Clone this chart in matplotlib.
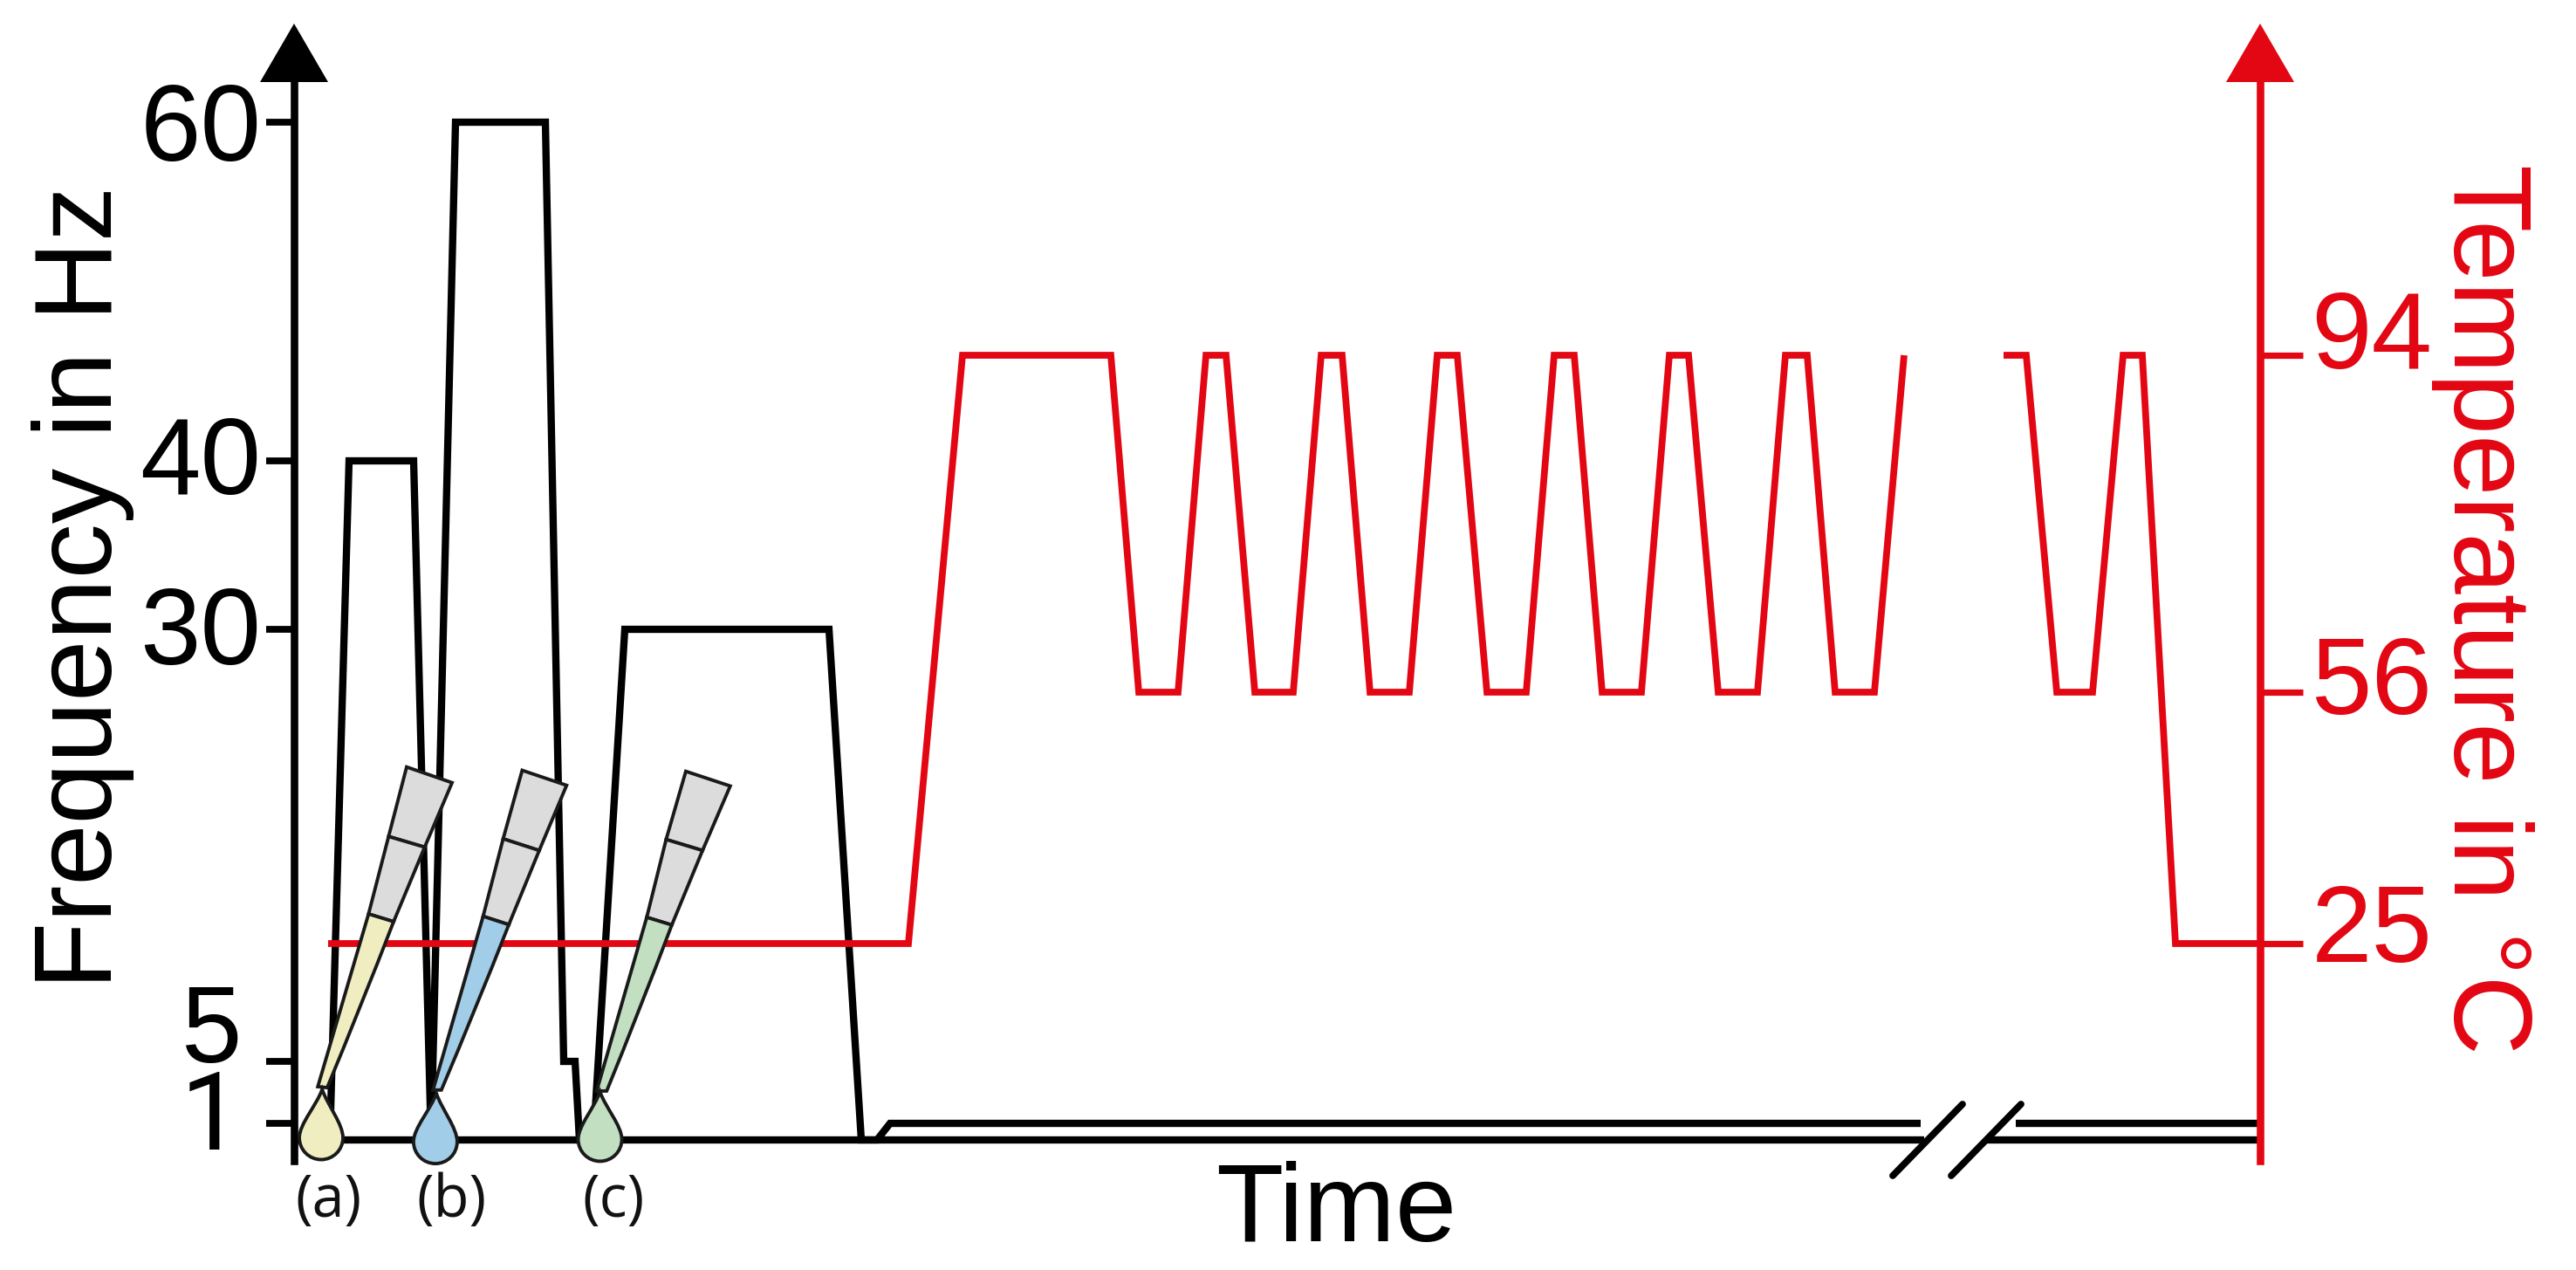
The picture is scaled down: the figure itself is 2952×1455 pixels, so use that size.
import numpy as np
import matplotlib
matplotlib.use("Agg")
import matplotlib.pyplot as plt
from matplotlib.patches import PathPatch, Polygon
from matplotlib.path import Path
from matplotlib.transforms import Affine2D

# ---- data (time in arbitrary units) ----
freq_time = [41, 63, 137, 157, 185, 288, 309, 322, 327, 343, 379, 613, 650, 668, 683, 1864, np.nan, 1973, 2253]
freq_vals = [0, 40, 40, 0, 60, 60, 5, 5, 0, 0, 30, 30, 0, 0, 1, 1, np.nan, 1, 1]
base_time = [0, 1868, np.nan, 1939, 2253]
base_vals = [0, 0, np.nan, 0, 0]
temp_time = [39, 704, 766, 936, 968, 1013, 1045, 1068, 1101, 1145, 1177, 1201, 1233, 1278, 1310, 1333, 1367,
             1412, 1444, 1467, 1499, 1544, 1576, 1598, 1632, 1677, 1709, 1734, 1766, 1811, 1845, np.nan,
             1959, 1985, 2020, 2061, 2096, 2118, 2156, 2253]
temp_vals = [25, 25, 94, 94, 56, 56, 94, 94, 56, 56, 94, 94, 56, 56, 94, 94, 56,
             56, 94, 94, 56, 56, 94, 94, 56, 56, 94, 94, 56, 56, 94, np.nan,
             94, 94, 56, 56, 94, 94, 25, 25]
freq_ticks = [1, 5, 30, 40, 60]
temp_ticks = [25, 56, 94]
samples = ["(a)", "(b)", "(c)"]

W, H = 2952, 1455
L, R, T, B = 337, 2590, 93, 1330
BLACK, RED = "#000000", "#e30613"

# axis calibration (value -> pixel row)
f_val = [-10, 0, 1, 5, 30, 40, 60, 100]
f_px = [1306 + 10 * 19.4, 1306, 1287, 1216, 721, 528, 140, 140 - 40 * 19.4]
t_val = [-100, 25, 56, 94, 200]
t_px = [1081 + 125 * 9.29, 1081, 793, 407, 407 - 106 * 10.2]
DIGIT_H = 90

# where each tick label's digits sit relative to its tick, in pixels (dx, centre dy)
f_label_shift = {1: (-23, -15), 5: (-23, -44), 30: (0, -5), 40: (0, -7), 60: (0, -1)}
t_label_shift = {25: (0, -24), 56: (0, -20), 94: (0, -30)}


def forward(vals, px):
    v = np.array(vals, float)
    p = -np.array(px, float)
    return (lambda a: np.interp(a, v, p)), (lambda a: np.interp(a, p, v))


def shift_labels(axis_obj, ticks, shifts):
    for lbl, t in zip(axis_obj.get_yticklabels(), ticks):
        dx, dy = shifts[t]
        lbl.set_family("Roboto" if t == 1 else "Liberation Sans")
        lbl.set_va("baseline")
        lbl.set_transform(lbl.get_transform() + Affine2D().translate(dx, -(dy + DIGIT_H / 2)))


fig = plt.figure(figsize=(W / 100, H / 100), dpi=100)
ax = fig.add_axes([L / W, 1 - B / H, (R - L) / W, (B - T) / H])
ax.patch.set_alpha(0)
ax.set_yscale("function", functions=forward(f_val, f_px))
inv_f = forward(f_val, f_px)[1]
ax.set_ylim(float(inv_f(-B)), float(inv_f(-T)))
ax.set_xlim(0, R - L)
ax.plot(base_time, base_vals, color=BLACK, lw=6.0, solid_capstyle="butt")
ax.plot(freq_time, freq_vals, color=BLACK, lw=6.0, solid_joinstyle="miter", solid_capstyle="butt")
ax.set_xticks([])
ax.set_yticks(freq_ticks, [str(v) for v in freq_ticks])
ax.tick_params(axis="y", length=23, width=5.6, color=BLACK, labelsize=90, pad=4)
shift_labels(ax, freq_ticks, f_label_shift)
for s in ["top", "right", "bottom"]:
    ax.spines[s].set_visible(False)
ax.spines["left"].set_linewidth(6.2)
ax.spines["left"].set_color(BLACK)

ax2 = ax.twinx()
ax2.patch.set_alpha(0)
ax2.set_yscale("function", functions=forward(t_val, t_px))
inv_t = forward(t_val, t_px)[1]
ax2.set_ylim(float(inv_t(-B)), float(inv_t(-T)))
ax2.plot(temp_time, temp_vals, color=RED, lw=5.6, solid_joinstyle="miter", solid_capstyle="butt")
ax2.set_yticks(temp_ticks, [str(v) for v in temp_ticks])
ax2.tick_params(axis="y", length=35, width=5.2, color=RED, labelcolor=RED, labelsize=90, pad=7)
shift_labels(ax2, temp_ticks, t_label_shift)
for s in ["top", "left", "bottom"]:
    ax2.spines[s].set_visible(False)
ax2.spines["right"].set_linewidth(6.2)
ax2.spines["right"].set_color(RED)

# pixel coordinates for the hand-drawn decoration (origin top-left)
px = Affine2D().scale(1, -1).translate(0, H)


def add_poly(points, fc, z=10, lw=2.8, ec="#1a1a1a", closed=True):
    fig.add_artist(Polygon(points, closed=closed, facecolor=fc, edgecolor=ec, lw=lw, transform=px, zorder=z,
                           joinstyle="miter"))


# arrowheads
add_poly([(L, 27), (L - 39, 94), (L + 39, 94)], BLACK, lw=0, ec="none")
add_poly([(R, 27), (R - 39, 94), (R + 39, 94)], RED, lw=0, ec="none")

# axis-break slashes
for dx in (0, 67):
    fig.add_artist(plt.Line2D([2169 + dx, 2249 + dx], [1347, 1265], color=BLACK, lw=5.6, transform=px,
                              zorder=6, solid_capstyle="round"))


def z2p(x, y):
    return (280 + x / 2.613, 850 + y / 2.613)


def pipette(top, mid, low, tip_l, tip_r, drop_c, drop_tip, color):
    add_poly([z2p(*p) for p in (top[0], top[1], mid[1], mid[0])], "#dcdcdc", z=11)
    add_poly([z2p(*p) for p in (mid[0], mid[1], low[1], low[0])], "#dcdcdc", z=11)
    lx0, ly0 = z2p(*low[0])
    lx1, ly1 = z2p(*low[1])
    tlx, tly = z2p(*tip_l)
    trx, try_ = z2p(*tip_r)
    cx = (lx1 + trx) / 2 + 1.5
    cy = (ly1 + try_) / 2
    verts = [(lx0, ly0), (lx1, ly1), (cx, cy), (trx, try_), (tlx, tly), (lx0, ly0)]
    codes = [Path.MOVETO, Path.LINETO, Path.CURVE3, Path.CURVE3, Path.LINETO, Path.CLOSEPOLY]
    fig.add_artist(PathPatch(Path(verts, codes), facecolor=color, edgecolor="#1a1a1a", lw=2.8, transform=px,
                             zorder=11))
    dcx, dcy = z2p(*drop_c)
    tx, ty = z2p(*drop_tip)
    r = 25
    k = 0.5523 * r
    dv = [(tx, ty),
          (tx + 6, ty + 18), (dcx + r, dcy - 16), (dcx + r, dcy),
          (dcx + r, dcy + k), (dcx + k, dcy + r), (dcx, dcy + r),
          (dcx - k, dcy + r), (dcx - r, dcy + k), (dcx - r, dcy),
          (dcx - r, dcy - 16), (tx - 6, ty + 18), (tx, ty),
          (tx, ty)]
    dc = [Path.MOVETO] + [Path.CURVE4] * 12 + [Path.CLOSEPOLY]
    fig.add_artist(PathPatch(Path(dv, dc), facecolor=color, edgecolor="#1a1a1a", lw=2.8, transform=px, zorder=12))


pipette([(486, 75), (622, 122)], [(432, 283), (540, 315)], [(372, 515), (447, 538)], (220, 1032), (248, 1035),
        (230, 1185), (233, 1040), "#f0eec0")
pipette([(832, 85), (965, 130)], [(775, 290), (883, 325)], [(715, 522), (792, 547)], (565, 1042), (590, 1042),
        (572, 1197), (575, 1052), "#a2cde8")
pipette([(1322, 88), (1455, 132)], [(1263, 292), (1372, 325)], [(1205, 525), (1280, 548)], (1055, 1045), (1085, 1045),
        (1065, 1190), (1065, 1047), "#c2dfc2")

# texts
for name, xc in zip(samples, (376, 517, 703)):
    fig.text(xc / W, 1 - 1376 / H, name, family="Open Sans", fontsize=48, ha="center", va="center", color="#111111")
fig.text(1531 / W, 1 - 1422 / H, "Time", family="Liberation Sans", fontsize=91, ha="center", va="baseline", color=BLACK)
fig.text(128 / W, 1 - 673 / H, "Frequency in Hz", family="Liberation Sans", fontsize=91, rotation=90,
         rotation_mode="anchor", ha="center", va="baseline", color=BLACK)
fig.text(2812 / W, 1 - 698 / H, "Temperature in °C", family="Liberation Sans", fontsize=91, rotation=-90,
         rotation_mode="anchor", ha="center", va="baseline", color=RED)

fig.savefig("out.png", dpi=100)
